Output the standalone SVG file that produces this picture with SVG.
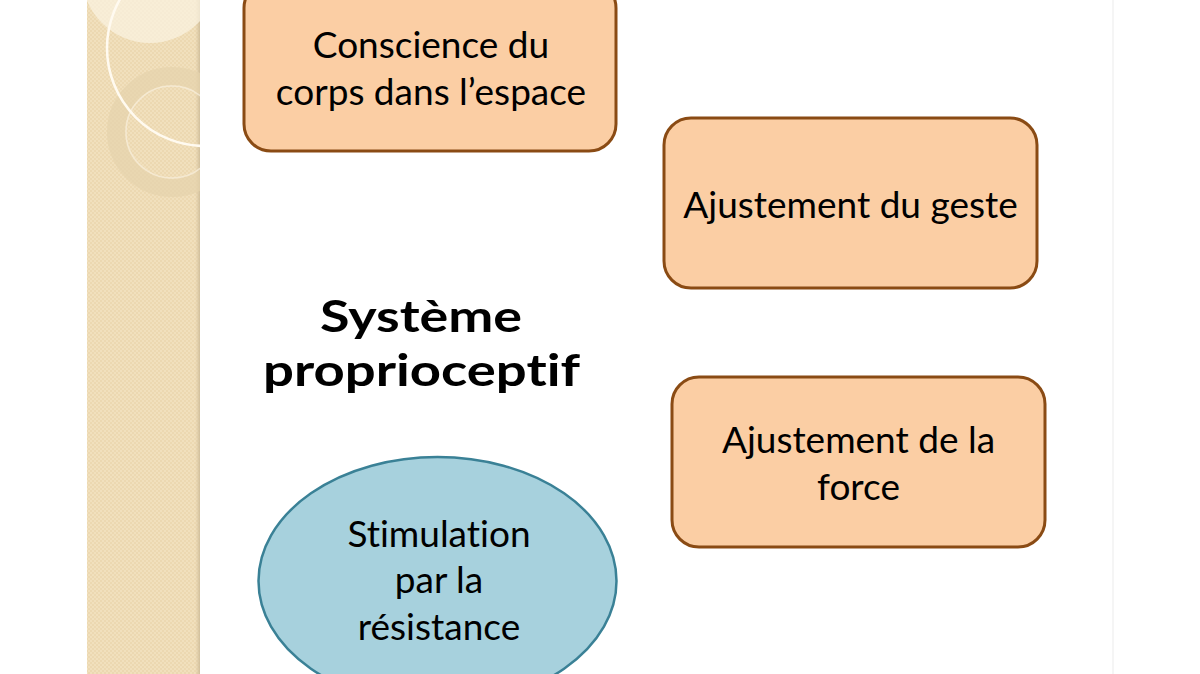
<svg xmlns="http://www.w3.org/2000/svg" width="1200" height="674" viewBox="0 0 1200 674">
  <defs>
    <style>
      .box { fill: #fbcea4; stroke: #8a4b14; stroke-width: 3; }
      .ell { fill: #a7d1dd; stroke: #3a8196; stroke-width: 2.5; }
      .lbl { font-family: Lato, "Open Sans", "Liberation Sans", sans-serif; font-size: 37px; fill: #000; text-anchor: middle; font-variant-ligatures: none; }
      .title { font-family: Lato, "Open Sans", "Liberation Sans", sans-serif; font-weight: bold; font-size: 43px; fill: #000; text-anchor: middle; font-variant-ligatures: none; }
    </style>
    <pattern id="check" width="4" height="4" patternUnits="userSpaceOnUse">
      <rect width="4" height="4" fill="#f1e0bd"/>
      <rect width="2" height="2" fill="#ecd8b1"/>
      <rect x="2" y="2" width="2" height="2" fill="#ecd8b1"/>
    </pattern>
    <linearGradient id="edge" x1="0" y1="0" x2="1" y2="0">
      <stop offset="0" stop-color="#d9c7a3" stop-opacity="0"/>
      <stop offset="1" stop-color="#cdbb98" stop-opacity="0.9"/>
    </linearGradient>
    <clipPath id="stripClip">
      <rect x="87" y="0" width="113" height="674"/>
    </clipPath>
  </defs>

  <rect width="1200" height="674" fill="#ffffff"/>
  <line x1="1113" y1="0" x2="1113" y2="674" stroke="#f5f5f5" stroke-width="2"/>

  <g id="strip">
    <rect x="87" y="0" width="113" height="674" fill="url(#check)"/>
    <rect x="195" y="0" width="5" height="674" fill="url(#edge)"/>
    <g clip-path="url(#stripClip)">
      <circle cx="150" cy="-25" r="68" fill="#fbf3e2" opacity="0.7"/>
      <circle cx="172" cy="132" r="56" fill="none" stroke="#e6d3ac" stroke-width="18" opacity="0.7"/>
      <circle cx="172" cy="132" r="46" fill="none" stroke="#f6ecd8" stroke-width="1.5" opacity="0.8"/>
      <circle cx="205" cy="48" r="98" fill="none" stroke="#fffaf0" stroke-width="2.5"/>
    </g>
  </g>

  <g id="connectors"/>

  <g id="node-conscience">
    <rect class="box" x="244" y="-19" width="372" height="170" rx="27"/>
    <text class="lbl" x="431" y="58">Conscience du</text>
    <text class="lbl" x="431" y="105">corps dans l’espace</text>
  </g>

  <g id="node-geste">
    <rect class="box" x="664" y="118" width="373" height="170" rx="27"/>
    <text class="lbl" x="850.5" y="218">Ajustement du geste</text>
  </g>

  <g id="node-force">
    <rect class="box" x="672" y="377" width="373" height="170" rx="27"/>
    <text class="lbl" x="858.5" y="453">Ajustement de la</text>
    <text class="lbl" x="858.5" y="500">force</text>
  </g>

  <g id="node-systeme">
    <text class="title" x="421" y="332" textLength="202" lengthAdjust="spacingAndGlyphs">Système</text>
    <text class="title" x="421.5" y="386" textLength="317" lengthAdjust="spacingAndGlyphs">proprioceptif</text>
  </g>

  <g id="node-stimulation">
    <ellipse class="ell" cx="437.5" cy="581" rx="179" ry="124"/>
    <text class="lbl" x="439" y="547">Stimulation</text>
    <text class="lbl" x="439" y="593">par la</text>
    <text class="lbl" x="439" y="640">résistance</text>
  </g>
</svg>
